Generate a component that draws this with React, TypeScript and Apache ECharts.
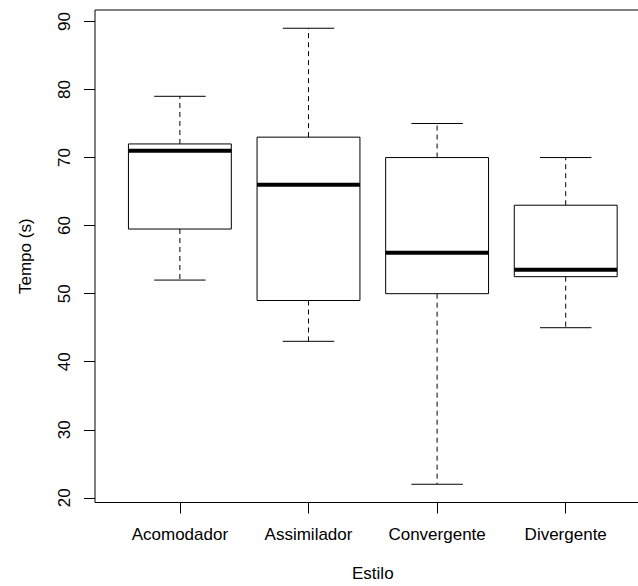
import React, { useEffect, useRef } from "react";
import * as echarts from "echarts";

const categories = ["Acomodador", "Assimilador", "Convergente", "Divergente"];
const lowerWhisker = [52, 43, 22, 45];
const lowerQuartile = [59.5, 49, 50, 52.5];
const medians = [71, 66, 56, 53.5];
const upperQuartile = [72, 73, 70, 63];
const upperWhisker = [79, 89, 75, 70];
const yTicks = [20, 30, 40, 50, 60, 70, 80, 90];
const xTicks = [1, 2, 3, 4];

const FONT = "'Liberation Sans', Arial, sans-serif";
const FS = 17;

export default function App() {
  const ref = useRef<HTMLDivElement>(null);
  useEffect(() => {
    if (!ref.current) return;
    const chart = echarts.init(ref.current, null, { renderer: "svg" });
    const data = categories.map((_, i) => [
      i + 1,
      lowerWhisker[i],
      lowerQuartile[i],
      medians[i],
      upperQuartile[i],
      upperWhisker[i],
    ]);
    const renderItem = (params: any, api: any) => {
      const x = api.value(0);
      const lo = api.coord([x, api.value(1)]);
      const q1 = api.coord([x, api.value(2)]);
      const md = api.coord([x, api.value(3)]);
      const q3 = api.coord([x, api.value(4)]);
      const hi = api.coord([x, api.value(5)]);
      const w = api.size([0.8, 0])[0];
      const hw = w / 2;
      const cw = w / 4;
      const cx = q1[0];
      const solid = { stroke: "#000", lineWidth: 1, fill: "none" };
      const dashed = { stroke: "#000", lineWidth: 1, lineDash: [5, 4], fill: "none" };
      return {
        type: "group",
        children: [
          { type: "line", shape: { x1: cx, y1: q3[1], x2: cx, y2: hi[1] }, style: dashed },
          { type: "line", shape: { x1: cx, y1: q1[1], x2: cx, y2: lo[1] }, style: dashed },
          { type: "line", shape: { x1: cx - cw, y1: hi[1], x2: cx + cw, y2: hi[1] }, style: solid },
          { type: "line", shape: { x1: cx - cw, y1: lo[1], x2: cx + cw, y2: lo[1] }, style: solid },
          {
            type: "rect",
            shape: { x: cx - hw, y: q3[1], width: w, height: q1[1] - q3[1] },
            style: { stroke: "#000", lineWidth: 1, fill: "#fff" },
          },
          { type: "line", shape: { x1: cx - hw, y1: md[1], x2: cx + hw, y2: md[1] }, style: { stroke: "#000", lineWidth: 4 } },
        ],
      };
    };
    chart.setOption({
      animation: false,
      backgroundColor: "#fff",
      textStyle: { fontFamily: FONT },
      grid: {
        left: 95,
        top: 10,
        right: -12.6,
        bottom: 83.5,
        containLabel: false,
        outerBoundsMode: "none",
        show: true,
        borderColor: "#000",
        borderWidth: 1,
        backgroundColor: "transparent",
      },
      xAxis: {
        type: "value",
        min: 0.34,
        max: 4.66,
        name: "Estilo",
        nameLocation: "middle",
        nameGap: 62,
        nameTextStyle: { fontSize: FS, color: "#000", fontFamily: FONT },
        axisLine: { show: false },
        splitLine: { show: false },
        axisTick: {
          show: true,
          customValues: xTicks,
          length: 11,
          lineStyle: { color: "#000", width: 1 },
        },
        axisLabel: {
          customValues: xTicks,
          formatter: (v: number) => categories[Math.round(v) - 1] ?? "",
          fontSize: FS,
          color: "#000",
          margin: 23,
          fontFamily: FONT,
        },
      },
      yAxis: {
        type: "value",
        min: 19.32,
        max: 91.68,
        name: "Tempo (s)",
        nameLocation: "middle",
        nameRotate: 90,
        nameGap: 61,
        nameTextStyle: { fontSize: FS, color: "#000", fontFamily: FONT },
        axisLine: { show: false },
        splitLine: { show: false },
        axisTick: {
          show: true,
          customValues: yTicks,
          length: 11,
          lineStyle: { color: "#000", width: 1 },
        },
        axisLabel: {
          customValues: yTicks,
          rotate: 90,
          fontSize: FS,
          color: "#000",
          margin: 22,
          fontFamily: FONT,
        },
      },
      series: [
        {
          type: "custom",
          renderItem,
          data,
          encode: { x: 0, y: [1, 2, 3, 4, 5] },
          clip: false,
        },
      ],
    });
    return () => chart.dispose();
  }, []);
  return (
    <div
      ref={ref}
      style={{ position: "fixed", left: 0, top: 0, width: 638, height: 586, background: "#fff" }}
    />
  );
}
